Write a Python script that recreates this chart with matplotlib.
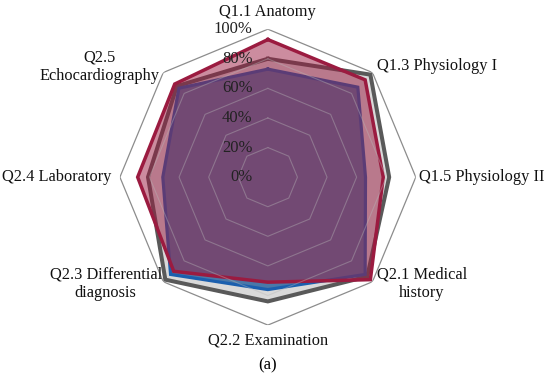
import numpy as np
import matplotlib
matplotlib.use("Agg")
import matplotlib.pyplot as plt

# categories clockwise from the top
categories = [
    "Q1.1 Anatomy",
    "Q1.3 Physiology I",
    "Q1.5 Physiology II",
    "Q2.1 Medical\nhistory",
    "Q2.2 Examination",
    "Q2.3 Differential\ndiagnosis",
    "Q2.4 Laboratory",
    "Q2.5\nEchocardiography",
]
gray_vals = [80, 98, 82, 95, 84, 98, 81, 87]
blue_vals = [73, 86, 66, 93, 76, 93, 71, 85]
red_vals = [93, 93, 78, 98, 71, 90, 88, 89]
ring_levels = [0, 20, 40, 60, 80, 100]
ring_labels = [f"{v}%" for v in ring_levels]

plt.rcParams["font.family"] = ["Liberation Serif", "DejaVu Serif"]

n = len(categories)
angles = np.linspace(0, 2 * np.pi, n, endpoint=False)
ang_closed = np.append(angles, angles[0])


def closed(vals):
    v = np.array(vals, dtype=float) / 100.0
    return np.append(v, v[0])


fig = plt.figure(figsize=(5.5, 3.83), dpi=100)
ax = fig.add_axes([0.218, 0.151, 0.538, 0.773], projection="polar")
ax.set_theta_offset(np.pi / 2)
ax.set_theta_direction(-1)
ax.set_ylim(0, 1)
ax.grid(False)
ax.spines["polar"].set_visible(False)
ax.set_xticks([])
ax.set_yticks([])
ax.patch.set_alpha(0)

# octagon grid
for lvl in ring_levels[1:]:
    r = np.full(n + 1, lvl / 100.0)
    if lvl == 100:
        ax.plot(ang_closed, r, color="#8c8c8c", lw=0.9, zorder=1)
    else:
        ax.plot(ang_closed, r, color="#b8b8b8", lw=0.8, alpha=0.4, zorder=10)

# series
ax.fill(ang_closed, closed(gray_vals), color="#d9d9d9", zorder=2)
ax.plot(ang_closed, closed(gray_vals), color="#595959", lw=2.9, zorder=3,
        solid_joinstyle="miter")

ax.fill(ang_closed, closed(blue_vals), color="#4a78a8", zorder=4)
ax.plot(ang_closed, closed(blue_vals), color="#1b5fae", lw=2.3, zorder=5,
        solid_joinstyle="miter")

ax.fill(ang_closed, closed(red_vals), color="#9b1b40", alpha=0.5, lw=0, zorder=6)
ax.plot(ang_closed, closed(red_vals), color="#9b1b40", lw=2.5, zorder=7,
        solid_joinstyle="miter")

# percentage labels along the top axis
for lvl, lab in zip(ring_levels, ring_labels):
    ax.annotate(lab, xy=(0, lvl / 100.0), xytext=(-11, 0), textcoords="offset points",
                ha="right", va="center", fontsize=12, color="#222222", zorder=12)

# category labels
label_r = 1.04
for ang, cat in zip(angles, categories):
    deg = np.degrees(ang) % 360
    if deg == 0:
        ha, va, off = "center", "bottom", (0, 2)
    elif deg == 180:
        ha, va, off = "center", "top", (0, -1)
    elif deg < 180:
        ha, va, off = "left", "center", (2, 0)
    else:
        ha, va, off = "right", "center", (-2, 0)
    if deg == 45:
        va, off = "center", (0, 2)
    if deg == 90:
        off = (-2, 0)
    if deg == 135:
        va, off = "top", (0, 14)
    if deg == 225:
        va, off = "top", (2, 14)
    if deg == 315:
        va, off = "bottom", (0, -11)
    ax.annotate(cat, xy=(ang, label_r), xytext=off, textcoords="offset points",
                ha=ha, va=va, fontsize=11.8, multialignment="center",
                color="#111111", annotation_clip=False)

fig.text(0.487, 0.045, "(a)", ha="center", va="center", fontsize=12)

fig.savefig("out.png", dpi=100)
